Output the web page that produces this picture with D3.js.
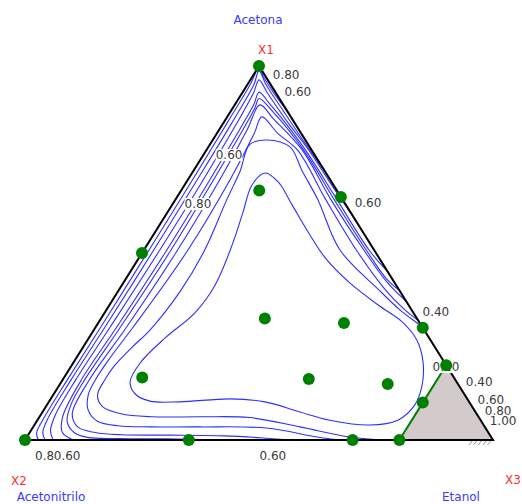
<!DOCTYPE html>
<html>
<head>
<meta charset="utf-8">
<script src="https://cdn.jsdelivr.net/npm/d3@7"></script>
<style>
  body { margin: 0; background: #fff; }
  svg { display: block; }
  text { font-family: "DejaVu Sans", Verdana, sans-serif; }
</style>
</head>
<body>
<svg id="chart" width="522" height="504"></svg>
<script>
// components, in the order X1, X2, X3
const componentNames = ['Acetona', 'Acetonitrilo', 'Etanol']
const componentCodes = ['X1', 'X2', 'X3']

// design points as [x1, x2, x3]
const designPoints = [
  [1, 0, 0], [0, 1, 0], [0.5, 0.5, 0], [0.65, 0, 0.35],
  [0.667, 0.167, 0.167], [0.325, 0.325, 0.35], [0.313, 0.162, 0.525],
  [0.167, 0.667, 0.167], [0.163, 0.312, 0.525], [0.15, 0.15, 0.7],
  [0.3, 0, 0.7], [0.2, 0, 0.8], [0.1, 0.1, 0.8], [0, 0.2, 0.8],
  [0, 0.3, 0.7], [0, 0.65, 0.35]
]

// x3 <= 0.80 constraint and the region cut off by it, [x1, x2, x3]
const constraintLine = [[0.2, 0, 0.8], [0.1, 0.1, 0.8], [0, 0.2, 0.8]]
const excludedRegion = [[0.2, 0, 0.8], [0, 0, 1], [0, 0.2, 0.8]]

// contour lines, points as [x1, x3]
const contourK1 = [[0,0.028],[0.02,0.015],[0.06,0.011],[0.16,0.01],[0.3,0.011],[0.5,0.011],[0.7,0.01],[0.85,0.008],[0.95,0.006],[0.995,0.0025],[0.97,0.025],[0.92,0.076],[0.88,0.12]]
const contourK2 = [[0,0.043],[0.02,0.028],[0.06,0.02],[0.16,0.018],[0.3,0.02],[0.5,0.021],[0.7,0.02],[0.85,0.018],[0.95,0.014],[0.987,0.0065],[0.95,0.04],[0.88,0.112],[0.8,0.195],[0.72,0.28]]
const contourK3 = [[0,0.06],[0.025,0.042],[0.07,0.031],[0.16,0.028],[0.3,0.031],[0.5,0.034],[0.7,0.033],[0.85,0.029],[0.93,0.024],[0.963,0.0185],[0.93,0.052],[0.85,0.136],[0.775,0.219],[0.68,0.316],[0.6,0.4]]
const contourK4 = [[0,0.103],[0.02,0.07],[0.06,0.05],[0.16,0.04],[0.3,0.045],[0.5,0.049],[0.7,0.047],[0.85,0.043],[0.9,0.04],[0.93,0.035],[0.9,0.072],[0.85,0.13],[0.775,0.212],[0.642,0.346],[0.508,0.481],[0.45,0.55]]
const contourK4b = [[0,0.42],[0.003,0.3],[0.004,0.2],[0.007,0.13],[0.02,0.095],[0.05,0.065],[0.1,0.05],[0.16,0.047],[0.3,0.053],[0.5,0.058],[0.7,0.055],[0.85,0.05],[0.89,0.047],[0.913,0.0435],[0.88,0.088],[0.775,0.208],[0.642,0.34],[0.508,0.475],[0.43,0.558],[0.4,0.6]]
const contourK5 = [[0,0.566],[0.006,0.5],[0.011,0.42],[0.013,0.3],[0.014,0.2],[0.02,0.14],[0.035,0.095],[0.07,0.066],[0.16,0.057],[0.3,0.066],[0.5,0.072],[0.7,0.068],[0.83,0.06],[0.896,0.054],[0.86,0.1],[0.775,0.205],[0.642,0.333],[0.508,0.47],[0.42,0.565],[0.37,0.63]]
const contourK6 = [[0,0.673],[0.008,0.62],[0.032,0.5],[0.035,0.356],[0.035,0.25],[0.038,0.18],[0.05,0.13],[0.08,0.095],[0.12,0.075],[0.16,0.07],[0.22,0.072],[0.3,0.08],[0.5,0.094],[0.7,0.09],[0.82,0.08],[0.864,0.074],[0.82,0.13],[0.775,0.195],[0.642,0.322],[0.508,0.454],[0.401,0.57],[0.35,0.635],[0.32,0.68]]
const contourK7 = [[0,0.774],[0.008,0.69],[0.035,0.57],[0.06,0.45],[0.062,0.343],[0.062,0.24],[0.07,0.17],[0.09,0.12],[0.12,0.095],[0.16,0.09],[0.2,0.092],[0.249,0.105],[0.294,0.12],[0.4,0.133],[0.508,0.13],[0.642,0.11],[0.72,0.1],[0.79,0.085],[0.802,0.116],[0.783,0.175],[0.72,0.232],[0.642,0.305],[0.508,0.419],[0.401,0.556],[0.348,0.627],[0.307,0.69],[0.297,0.703]]
// innermost, closed
const contourC1 = [[0.714,0.156],[0.69,0.196],[0.628,0.257],[0.556,0.327],[0.487,0.398],[0.42,0.484],[0.361,0.574],[0.316,0.648],[0.267,0.704],[0.209,0.746],[0.147,0.775],[0.094,0.786],[0.053,0.77],[0.04,0.717],[0.053,0.625],[0.075,0.55],[0.102,0.462],[0.11,0.383],[0.102,0.28],[0.104,0.215],[0.123,0.174],[0.155,0.147],[0.206,0.143],[0.273,0.163],[0.34,0.193],[0.414,0.199],[0.521,0.182],[0.61,0.161],[0.682,0.144]]
const openContours = [contourK1, contourK2, contourK3, contourK4, contourK4b, contourK5, contourK6, contourK7]

// contour labels: text and anchor [x1, x3]
const labelTexts = ['0.80', '0.60', '0.60', '0.80', '0.60', '0.40', '0.20', '0.40', '0.60', '0.80', '1.00', '0.80', '0.60', '0.60']
const labelAnchors = [[0.976,0.07],[0.93,0.118],[0.762,0.055],[0.631,0.054],[0.634,0.416],[0.342,0.707],[0.195,0.802],[0.155,0.893],[0.107,0.942],[0.078,0.972],[0.051,0.996],[-0.043,0.0716],[-0.043,0.1115],[-0.043,0.551]]

// hatch marks under the X3 corner, x3 along the base
const hatchAt = [0.955, 0.965, 0.975, 0.985, 0.995]

const svg = d3.select('#chart')
const xs = d3.scaleLinear().domain([0, 1]).range([25, 493])
const ys = d3.scaleLinear().domain([0, 1]).range([440, 66])

// [x1, x3] -> pixel
const proj = (x1, x3) => [xs(x3 + x1 / 2), ys(x1)]
const projT = t => proj(t[0], t[2])

const contourLine = d3.line().x(d => proj(d[0], d[1])[0]).y(d => proj(d[0], d[1])[1])
  .curve(d3.curveCatmullRom.alpha(0.5))
const closedLine = d3.line().x(d => proj(d[0], d[1])[0]).y(d => proj(d[0], d[1])[1])
  .curve(d3.curveCatmullRomClosed.alpha(0.5))

const gContours = svg.append('g')
gContours.selectAll('path.k').data(openContours).enter().append('path')
  .attr('d', contourLine)
  .attr('fill', 'none').attr('stroke', '#2f2fff').attr('stroke-width', 1.1)
gContours.append('path').datum(contourC1)
  .attr('d', closedLine)
  .attr('fill', 'none').attr('stroke', '#2f2fff').attr('stroke-width', 1.1)

// excluded corner
svg.append('path')
  .attr('d', 'M' + excludedRegion.map(projT).join('L') + 'Z')
  .attr('fill', '#d3cbcb')

// triangle frame
const corners = [[1, 0, 0], [0, 1, 0], [0, 0, 1]]
svg.append('path')
  .attr('d', 'M' + corners.map(projT).join('L') + 'Z')
  .attr('fill', 'none').attr('stroke', '#000').attr('stroke-width', 2)

svg.selectAll('line.hatch').data(hatchAt).enter().append('line')
  .attr('x1', d => proj(0, d)[0]).attr('y1', ys(0) + 1)
  .attr('x2', d => proj(0, d)[0] - 3).attr('y2', ys(0) + 5)
  .attr('stroke', '#999').attr('stroke-width', 1)

svg.append('path')
  .attr('d', 'M' + constraintLine.map(projT).join('L'))
  .attr('fill', 'none').attr('stroke', '#008000').attr('stroke-width', 2)

// contour labels with opaque background
const gLabels = svg.append('g').attr('font-size', 12).attr('fill', '#3a3a3a')
labelTexts.forEach((txt, i) => {
  const [px, py] = proj(labelAnchors[i][0], labelAnchors[i][1])
  const t = gLabels.append('text').attr('x', px).attr('y', py)
    .attr('text-anchor', 'middle').attr('dominant-baseline', 'central').text(txt)
  const bb = t.node().getBBox()
  gLabels.insert('rect', () => t.node())
    .attr('x', bb.x).attr('y', bb.y + 1).attr('width', bb.width).attr('height', bb.height - 2)
    .attr('fill', '#fff')
})

svg.selectAll('circle.pt').data(designPoints).enter().append('circle')
  .attr('cx', d => projT(d)[0]).attr('cy', d => projT(d)[1]).attr('r', 6)
  .attr('fill', '#008000')

// vertex captions
const captionOffsets = [[[7, -16], [-1, -46]], [[-6, 41], [26, 57]], [[20, 40], [-32, 57]]]
corners.forEach((c, i) => {
  const [px, py] = projT(c)
  svg.append('text').attr('x', px + captionOffsets[i][0][0]).attr('y', py + captionOffsets[i][0][1])
    .attr('text-anchor', 'middle').attr('dominant-baseline', 'central')
    .attr('font-size', 12).attr('fill', '#ff3030').text(componentCodes[i])
  svg.append('text').attr('x', px + captionOffsets[i][1][0]).attr('y', py + captionOffsets[i][1][1])
    .attr('text-anchor', 'middle').attr('dominant-baseline', 'central')
    .attr('font-size', 12).attr('fill', '#3a3aff').text(componentNames[i])
})
</script>
</body>
</html>
